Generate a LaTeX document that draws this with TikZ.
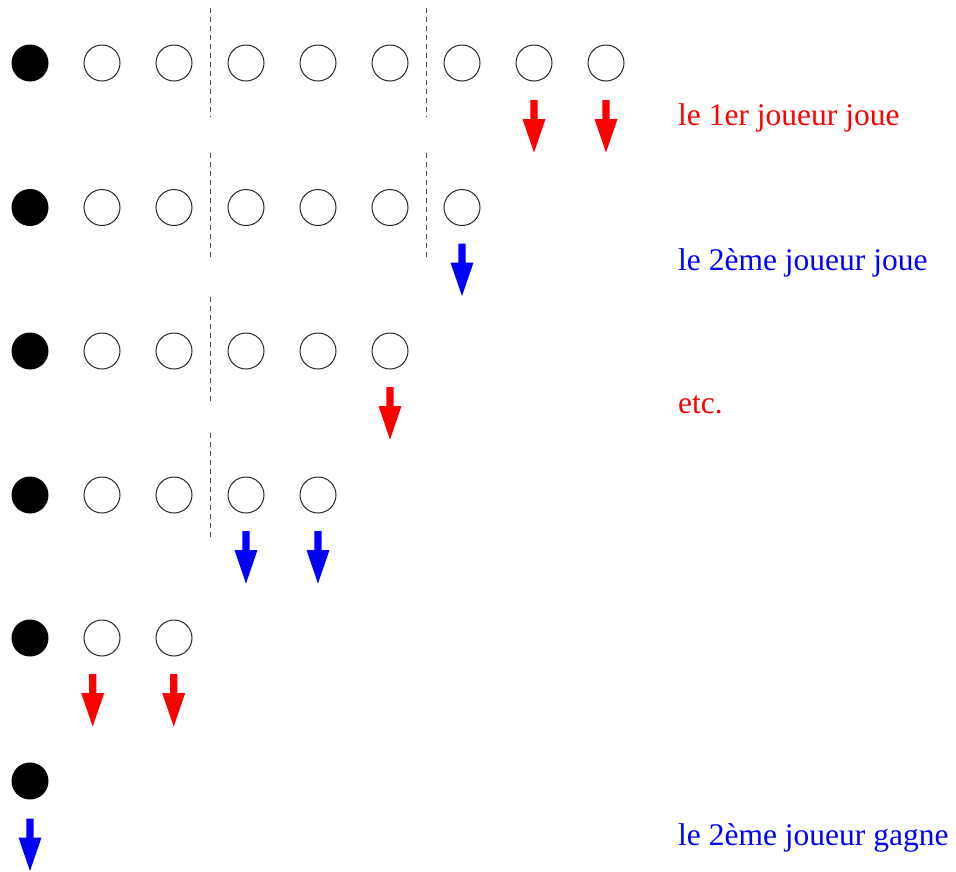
\documentclass[tikz,border=0pt]{standalone}
\usepackage{fontspec}
\setmainfont{Liberation Serif}
\tikzset{
  tok/.style={circle, draw=black!85, line width=1pt, minimum size=36pt, inner sep=0pt},
  fulltok/.style={circle, fill=black, minimum size=37pt, inner sep=0pt},
  sepline/.style={draw=black!70, line width=1pt, dash pattern=on 4.5pt off 4.5pt},
  lbl/.style={anchor=base west, inner sep=0pt, font=\fontsize{31.5}{36}\selectfont},
  pics/dnarrow/.style={code={\fill[#1] (-3.6,0) -- (3.6,0) -- (3.6,19) -- (11.5,19) -- (0,52.5) -- (-11.5,19) -- (-3.6,19) -- cycle;}}
}
\begin{document}
\begin{tikzpicture}[x=1pt,y=-1pt]
\useasboundingbox (0,0) rectangle (956,871);
% rows of tokens
\foreach \r/\yy/\n in {1/63/8, 2/207.5/6, 3/351/5, 4/495/4, 5/638/2, 6/781/0}{
  \node[fulltok] (c\r-0) at (30,\yy) {};
  \ifnum\n>0
    \foreach \c in {1,...,\n}{
      \node[tok] (c\r-\c) at (30+72*\c,\yy) {};
    }
  \fi
}
% separators
\coordinate (s1a) at (210,8);   \coordinate (s1b) at (210,117);
\coordinate (s1c) at (426,8);   \coordinate (s1d) at (426,117);
\coordinate (s2a) at (210,153); \coordinate (s2b) at (210,260);
\coordinate (s2c) at (426,153); \coordinate (s2d) at (426,260);
\coordinate (s3a) at (210,297); \coordinate (s3b) at (210,405);
\coordinate (s4a) at (210,433); \coordinate (s4b) at (210,539);
\draw[sepline] (s1a) -- (s1b);
\draw[sepline] (s1c) -- (s1d);
\draw[sepline] (s2a) -- (s2b);
\draw[sepline] (s2c) -- (s2d);
\draw[sepline] (s3a) -- (s3b);
\draw[sepline] (s4a) -- (s4b);
% moves
\pic at (534,100) {dnarrow=red};
\pic at (606,100) {dnarrow=red};
\pic at (462,243.5) {dnarrow=blue};
\pic at (390,387) {dnarrow=red};
\pic at (246,531) {dnarrow=blue};
\pic at (318,531) {dnarrow=blue};
\pic at (92.7,674) {dnarrow=red};
\pic at (173.7,674) {dnarrow=red};
\pic at (30,818.5) {dnarrow=blue};
% labels
\node[lbl, text=red] (t1) at (678,125) {le 1er joueur joue};
\node[lbl, text=blue] (t2) at (678,270) {le 2ème joueur joue};
\node[lbl, text=red] (t3) at (678,413.3) {etc.};
\node[lbl, text=blue] (t4) at (678,845) {le 2ème joueur gagne};
\end{tikzpicture}
\end{document}
